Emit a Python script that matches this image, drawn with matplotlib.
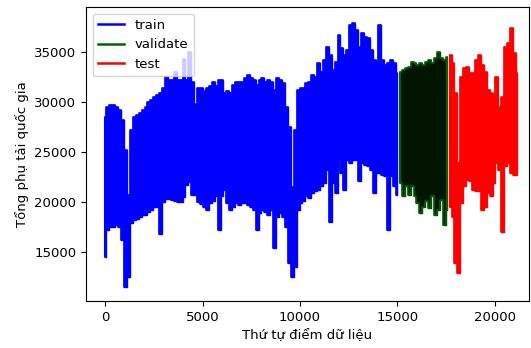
import numpy as np
import matplotlib
matplotlib.use('Agg')
import matplotlib.pyplot as plt

# envelope of the dense load series, every 150 points
step = 150

train_start = 0
train_hi = [28500, 29500, 29700, 29700, 29500, 29200, 28200, 25200, 20700, 27200,
            28500, 28700, 28900, 29200, 29500, 30000, 30200, 30500, 30700, 30900,
            31400, 32500, 32200, 32200, 33000, 32200, 32200, 34300, 32200, 35000,
            32000, 29800, 31400, 31400, 31050, 31400, 31550, 32000, 31550, 32200,
            32200, 30900, 31050, 30900, 31700, 32000, 32000, 32000, 32400, 32700,
            32400, 32200, 31700, 32200, 32400, 32000, 32200, 32000, 31200, 32400,
            32200, 31900, 29500, 27500, 21500, 27200, 31200, 31400, 31400, 31900,
            32000, 32700, 32500, 33900, 33000, 34200, 35500, 34700, 33200, 34000,
            36700, 35400, 34700, 35200, 37700, 37900, 37200, 35500, 36900, 36500,
            36400, 35200, 34200, 33900, 37700, 34200, 33700, 33900, 34200, 33900,
            32900]
train_lo = [14500, 17200, 17500, 17500, 17700, 17500, 16200, 11500, 12500, 17900,
            18200, 18300, 18500, 18700, 18700, 19000, 19200, 19500, 19500, 16800,
            20000, 20300, 20300, 20200, 20100, 20000, 20000, 20500, 21700, 22000,
            20700, 20700, 20000, 19800, 19550, 19200, 19900, 20050, 20550, 17200,
            20550, 21200, 19900, 19200, 19550, 19900, 19700, 19900, 19900, 19700,
            19550, 19200, 17200, 18900, 19200, 19050, 18700, 19200, 15400, 18550,
            18900, 18550, 17550, 13900, 12500, 13500, 19200, 19900, 20050, 20550,
            20400, 20900, 21050, 21200, 21550, 21900, 23200, 18050, 21900, 20900,
            24200, 22900, 21200, 24200, 23900, 24200, 24200, 22050, 23900, 23700,
            23550, 23200, 20900, 22900, 22900, 22700, 22550, 17200, 22550, 21550,
            20700]

validate_start = 15150
validate_hi = [33000, 33200, 33400, 33500, 34000, 33900, 33700, 33900, 33700, 34000,
               34200, 33900, 34400, 35000, 34400, 34200, 34500]
validate_lo = [21900, 20550, 21550, 20700, 21550, 20550, 19900, 18900, 19550, 20050,
               19400, 20550, 18700, 19200, 20200, 17700, 19200]

test_start = 17700
test_hi = [34700, 33900, 30900, 23900, 32500, 33400, 33500, 32900, 32900, 34200,
           34700, 33700, 33000, 31200, 30900, 30700, 32500, 29500, 30500, 35500,
           35900, 37400, 34900, 32900]
test_lo = [19550, 18550, 13900, 12900, 19900, 21550, 22200, 22050, 21200, 21050,
           21050, 19200, 19550, 20900, 20550, 21900, 23900, 23200, 17050, 23550,
           23900, 22900, 22700, 22700]


def draw(ax, start, hi, lo, color, label, core=None):
    # dense daily swings drawn as a filled band with its outline
    idx = start + step * np.arange(len(hi))
    fill = core or color
    # edges in the fill colour hide the seams between the step pieces
    ax.fill_between(idx, lo, hi, step='mid', facecolor=fill, edgecolor=fill,
                    lw=1.0, antialiased=False)
    ax.step(idx, hi, where='mid', color=color, lw=1.2, label=label)
    ax.step(idx, lo, where='mid', color=color, lw=1.2)
    ax.vlines(idx[[0, -1]], np.take(lo, [0, -1]), np.take(hi, [0, -1]),
              color=color, lw=1.5)


plt.rcParams['font.size'] = 9.5
plt.rcParams['path.simplify'] = False
fig = plt.figure(figsize=(5.31, 3.48), dpi=100)
ax = fig.add_axes([0.162, 0.135, 0.834, 0.845])

draw(ax, train_start, train_hi, train_lo, 'blue', 'train')
draw(ax, validate_start, validate_hi, validate_lo, 'darkgreen', 'validate', core='#001400')
draw(ax, test_start, test_hi, test_lo, 'red', 'test')

ax.set_xlim(-975, 21740)
ax.set_ylim(10100, 39500)
ax.set_xticks([0, 5000, 10000, 15000, 20000])
ax.set_yticks([15000, 20000, 25000, 30000, 35000])
ax.set_xlabel('Thứ tự điểm dữ liệu')
ax.set_ylabel('Tổng phụ tải quốc gia')
leg = ax.legend(loc='upper left')
for line in leg.get_lines():
    line.set_linewidth(1.8)

plt.savefig('out.png', dpi=100)
